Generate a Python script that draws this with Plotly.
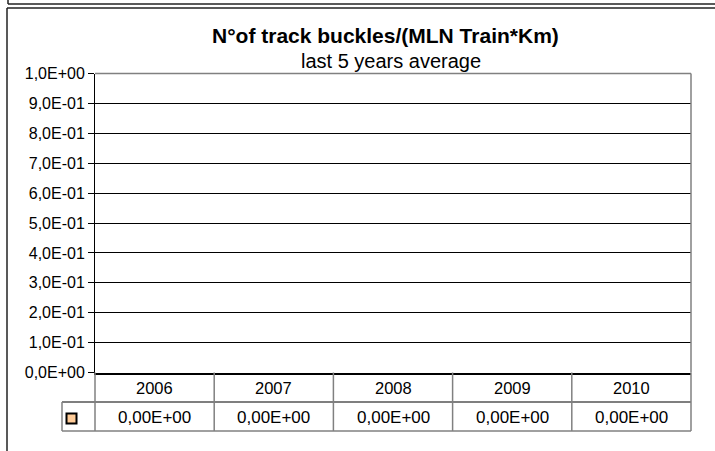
import plotly.graph_objects as go

# ---- data ----
years = ["2006", "2007", "2008", "2009", "2010"]
values = [0.0, 0.0, 0.0, 0.0, 0.0]
y_ticks = [0.0, 0.1, 0.2, 0.3, 0.4, 0.5, 0.6, 0.7, 0.8, 0.9, 1.0]
title_text = "N°of track buckles/(MLN Train*Km)"
subtitle_text = "last 5 years average"

W, H = 715, 451
FONT = "Arial, Liberation Sans, sans-serif"


def px(x):
    return x / W


def py(y):
    return 1 - y / H


def fmt_tick(v):
    return f"{v:.1E}".replace(".", ",")


def fmt_val(v):
    return f"{v:.2E}".replace(".", ",")


PL, PR, PT, PB = 95, 691, 73.5, 372.5
ROW1, ROW2 = 402, 431
LEG_L = 62

fig = go.Figure()
fig.add_trace(go.Bar(
    x=years, y=values,
    marker=dict(color="#FFCC99", line=dict(color="black", width=0)),
    showlegend=False, hoverinfo="skip",
))

shapes = []
line_dark = dict(color="#222222", width=1.5)
# outer frames
shapes.append(dict(type="line", xref="paper", yref="paper", x0=px(8), x1=px(8), y0=py(0), y1=py(4), line=line_dark))
shapes.append(dict(type="line", xref="paper", yref="paper", x0=px(8), x1=px(716), y0=py(4), y1=py(4), line=line_dark))
shapes.append(dict(type="line", xref="paper", yref="paper", x0=px(7), x1=px(716), y0=py(8), y1=py(8), line=line_dark))
shapes.append(dict(type="line", xref="paper", yref="paper", x0=px(7), x1=px(7), y0=py(8), y1=py(452), line=line_dark))
# plot area gray top/right border
gray = dict(color="#808080", width=1.5)
shapes.append(dict(type="line", xref="paper", yref="paper", x0=px(PL), x1=px(PR), y0=py(PT), y1=py(PT), line=gray))
shapes.append(dict(type="line", xref="paper", yref="paper", x0=px(PR), x1=px(PR), y0=py(PT), y1=py(PB), line=gray))

# data table lines
n = len(years)
shapes.append(dict(type="line", xref="paper", yref="paper", x0=px(LEG_L), x1=px(PR), y0=py(ROW1), y1=py(ROW1), line=dict(color="black", width=1.2)))
shapes.append(dict(type="line", xref="paper", yref="paper", x0=px(LEG_L), x1=px(PR), y0=py(ROW2), y1=py(ROW2), line=gray))
shapes.append(dict(type="line", xref="paper", yref="paper", x0=px(LEG_L), x1=px(LEG_L), y0=py(ROW1), y1=py(ROW2), line=gray))
shapes.append(dict(type="line", xref="paper", yref="paper", x0=px(PL), x1=px(PL), y0=py(PB), y1=py(ROW2), line=gray))
shapes.append(dict(type="line", xref="paper", yref="paper", x0=px(PR), x1=px(PR), y0=py(PB), y1=py(ROW2), line=gray))
for i in range(1, n):
    shapes.append(dict(type="line", xref="x", yref="paper", x0=i - 0.5, x1=i - 0.5, y0=py(PB), y1=py(ROW2), line=gray))
# legend key
shapes.append(dict(type="rect", xref="paper", yref="paper", x0=px(66.5), x1=px(76.5), y0=py(413.5), y1=py(423.5),
                   fillcolor="#FFCC99", line=dict(color="black", width=2)))

annotations = []
annotations.append(dict(text=f"<b>{title_text}</b>", xref="paper", yref="paper", x=px(386), y=py(35),
                        xanchor="center", yanchor="middle", showarrow=False,
                        font=dict(family=FONT, size=21, color="black")))
annotations.append(dict(text=subtitle_text, xref="paper", yref="paper", x=px(391), y=py(61),
                        xanchor="center", yanchor="middle", showarrow=False,
                        font=dict(family=FONT, size=20, color="black")))
for i, (yr, v) in enumerate(zip(years, values)):
    annotations.append(dict(text=yr, xref="x", yref="paper", x=i, y=py(388),
                            xanchor="center", yanchor="middle", showarrow=False,
                            font=dict(family=FONT, size=16.5, color="black")))
    annotations.append(dict(text=fmt_val(v), xref="x", yref="paper", x=i, y=py(417.5),
                            xanchor="center", yanchor="middle", showarrow=False,
                            font=dict(family=FONT, size=17, color="black")))

fig.update_layout(
    width=W, height=H, autosize=False,
    margin=dict(l=0, r=0, t=0, b=0, pad=0, autoexpand=False),
    paper_bgcolor="white", plot_bgcolor="white",
    shapes=shapes, annotations=annotations,
    xaxis=dict(domain=[px(PL), px(PR)], range=[-0.5, n - 0.5], type="category",
               automargin=False,
               showticklabels=False, ticks="", showgrid=False, zeroline=False,
               showline=True, linecolor="black", linewidth=2),
    yaxis=dict(domain=[py(PB), py(PT)], range=[0, 1], automargin=False,
               tickvals=y_ticks, ticktext=[fmt_tick(v) for v in y_ticks],
               ticks="outside", ticklen=6, tickcolor="black", tickwidth=1,
               showgrid=True, gridcolor="black", gridwidth=1,
               zeroline=False, showline=True, linecolor="black", linewidth=1,
               tickfont=dict(family=FONT, size=16, color="black")),
    bargap=0.5,
)

fig.write_html("out.html", config={"displayModeBar": False},
               post_script="document.body.style.margin='0';")
